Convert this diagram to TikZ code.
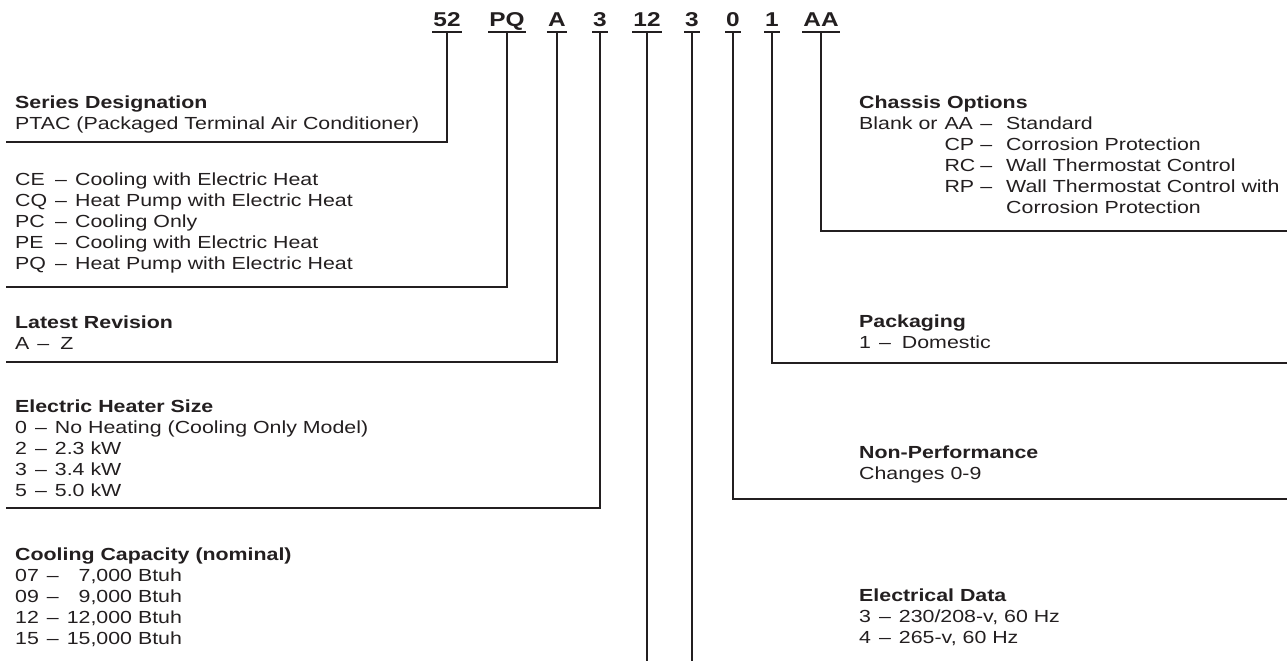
\documentclass[tikz,border=0pt]{standalone}
\usepackage{fontspec}
\setmainfont{Liberation Sans}[FakeStretch=1.22]
\usepackage{array}
\definecolor{ink}{HTML}{231F20}
\newcommand{\dsh}{\hspace{8pt}--\hspace{8pt}}
\tikzset{
  code/.style={font=\fontsize{20}{24}\selectfont\bfseries, text=ink, anchor=base, inner xsep=1pt, inner ysep=0pt, text depth=5pt},
  blk/.style={font=\fontsize{17.5}{21}\selectfont, text=ink, anchor=base west, inner sep=0pt},
  rule/.style={draw=ink, line width=1.8pt},
}
\begin{document}
\begin{tikzpicture}[x=1pt,y=-1pt]
\fill[white] (0,0) rectangle (1287,661);
\useasboundingbox (0,0) rectangle (1287,661);

% Model number
\foreach \nm/\x/\txt in {c52/447/52, cPQ/507/PQ, cA/557/A, cH/600/3, cCap/647/12, cVolt/692/3, cNP/733/0, cPk/772/1, cCh/821/AA}
  \node[code] (\nm) at (\x,27) {\txt};
\foreach \nm in {c52,cPQ,cA,cH,cCap,cVolt,cNP,cPk,cCh}
  \draw[rule] (\nm.south west) -- (\nm.south east);

% Left side
\node[blk] (series) at (15,108) {\begin{tabular}[t]{@{}l@{}}
  \textbf{Series Designation}\\
  PTAC (Packaged Terminal Air Conditioner)
\end{tabular}};
\node[blk] (type) at (15,185) {\begin{tabular}[t]{@{}l@{\dsh}l@{}}
  CE & Cooling with Electric Heat\\
  CQ & Heat Pump with Electric Heat\\
  PC & Cooling Only\\
  PE & Cooling with Electric Heat\\
  PQ & Heat Pump with Electric Heat
\end{tabular}};
\node[blk] (rev) at (15,328) {\begin{tabular}[t]{@{}l@{\dsh}l@{}}
  \multicolumn{2}{@{}l@{}}{\textbf{Latest Revision}}\\
  A & \hspace{3pt}Z
\end{tabular}};
\node[blk] (heater) at (15,412) {\begin{tabular}[t]{@{}l@{\dsh}l@{}}
  \multicolumn{2}{@{}l@{}}{\textbf{Electric Heater Size}}\\
  0 & No Heating (Cooling Only Model)\\
  2 & 2.3 kW\\
  3 & 3.4 kW\\
  5 & 5.0 kW
\end{tabular}};
\node[blk] (cap) at (15,560) {\begin{tabular}[t]{@{}l@{\dsh}l@{}}
  \multicolumn{2}{@{}l@{}}{\textbf{Cooling Capacity (nominal)}}\\
  07 & \phantom{1}7,000 Btuh\\
  09 & \phantom{1}9,000 Btuh\\
  12 & 12,000 Btuh\\
  15 & 15,000 Btuh
\end{tabular}};

% Right side
\node[blk] (chassis) at (859,108) {\begin{tabular}[t]{@{}l@{\hspace{7pt}}l@{\hspace{5pt}}l@{\hspace{14pt}}l@{}}
  \multicolumn{4}{@{}l@{}}{\textbf{Chassis Options}}\\
  Blank or & AA & -- & Standard\\
  & CP & -- & Corrosion Protection\\
  & RC & -- & Wall Thermostat Control\\
  & RP & -- & Wall Thermostat Control with\\
  & & & Corrosion Protection
\end{tabular}};
\node[blk] (pack) at (859,327) {\begin{tabular}[t]{@{}l@{\dsh}l@{}}
  \multicolumn{2}{@{}l@{}}{\textbf{Packaging}}\\
  1 & \hspace{3pt}Domestic
\end{tabular}};
\node[blk] (nonperf) at (859,458) {\begin{tabular}[t]{@{}l@{}}
  \textbf{Non-Performance}\\
  Changes 0-9
\end{tabular}};
\node[blk] (elec) at (859,601) {\begin{tabular}[t]{@{}l@{\dsh}l@{}}
  \multicolumn{2}{@{}l@{}}{\textbf{Electrical Data}}\\
  3 & 230/208-v, 60 Hz\\
  4 & 265-v, 60 Hz
\end{tabular}};

% Rule ends
\coordinate (eSer) at (6,142);
\coordinate (eType) at (6,287);
\coordinate (eRev) at (6,362);
\coordinate (eHeat) at (6,508);
\coordinate (eCh) at (1287,231);
\coordinate (ePk) at (1287,363);
\coordinate (eNP) at (1287,499);
\coordinate (bottom) at (0,661);

% Leaders
\foreach \nm/\e in {c52/eSer, cPQ/eType, cA/eRev, cH/eHeat, cCh/eCh, cPk/ePk, cNP/eNP}
  \draw[rule] (\nm.south) |- (\e);
\draw[rule] (cCap.south) -- (cCap.south |- bottom);
\draw[rule] (cVolt.south) -- (cVolt.south |- bottom);
\end{tikzpicture}
\end{document}
